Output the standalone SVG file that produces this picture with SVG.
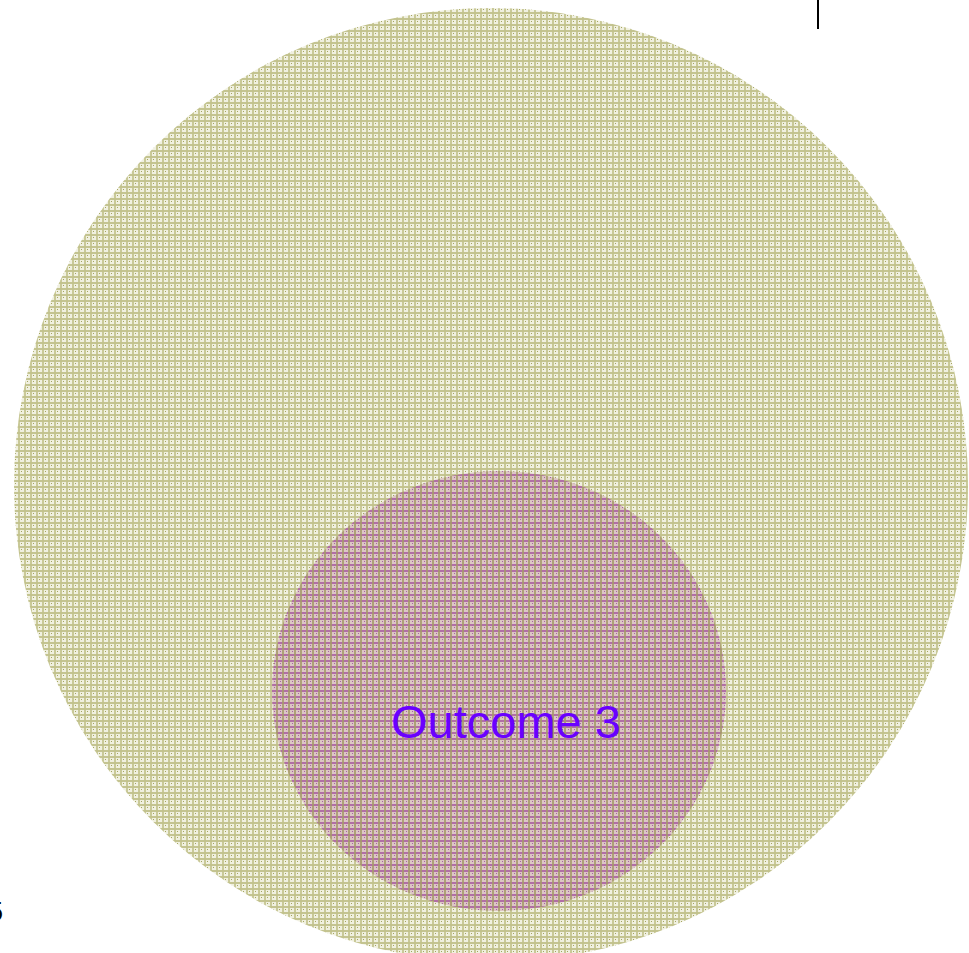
<svg xmlns="http://www.w3.org/2000/svg" width="969" height="953" viewBox="0 0 969 953">
<style>
.lbl{font-family:"Liberation Sans",Arial,sans-serif;fill:#6a00ff;font-size:47px}
.edge{font-family:"Liberation Sans",Arial,sans-serif;fill:#000;font-size:28px}
</style>
<defs>
<pattern id="olive" width="6" height="6" patternUnits="userSpaceOnUse">
<rect width="6" height="6" fill="#f0f0e0"/>
<rect x="0" y="0" width="6" height="2" fill="#bcbc84" opacity="0.85"/>
<rect x="0" y="0" width="2" height="6" fill="#c2c28c" opacity="0.85"/>
<rect x="3" y="3" width="1" height="1" fill="#a5a560"/>
</pattern>
<pattern id="plum" width="6" height="6" patternUnits="userSpaceOnUse">
<rect width="6" height="6" fill="#dcc6c4"/>
<rect x="0" y="0" width="6" height="2" fill="#a6589e" opacity="0.8"/>
<rect x="0" y="0" width="2" height="6" fill="#a69a6a" opacity="0.85"/>
<rect x="4" y="3" width="1" height="1" fill="#a862a6"/>
</pattern>
</defs>
<g id="connectors">
<line x1="818" y1="0" x2="818" y2="29" stroke="#000" stroke-width="2"/>
</g>
<g id="outer">
<circle cx="491" cy="485" r="477" fill="url(#olive)"/>
</g>
<g id="outcome3">
<ellipse cx="499" cy="691" rx="227" ry="220" fill="url(#plum)"/>
<text class="lbl" x="506" y="738" text-anchor="middle">Outcome 3</text>
</g>
<g id="edge-label">
<text class="edge" x="3" y="921" text-anchor="end">5</text>
</g>
</svg>
